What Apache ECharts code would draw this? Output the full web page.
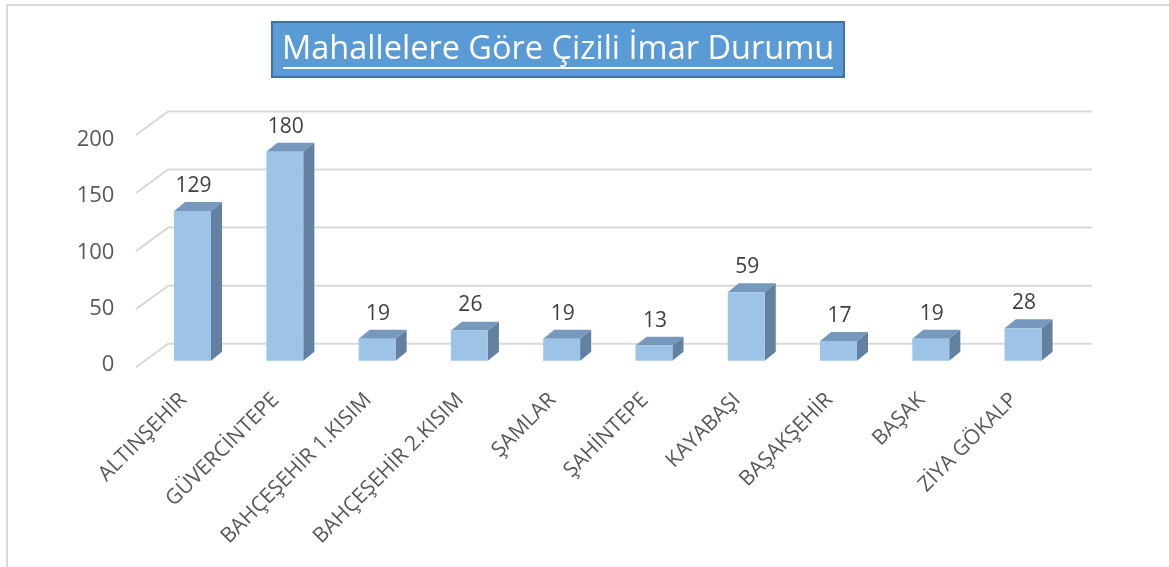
<!DOCTYPE html>
<html>
<head>
<meta charset="utf-8">
<style>
  html, body { margin: 0; padding: 0; background: #ffffff; }
  #chart { width: 1169px; height: 567px; }
</style>
<script src="https://cdn.jsdelivr.net/npm/echarts@6/dist/echarts.min.js"></script>
</head>
<body>
<div id="chart"></div>
<script>
const titleText = 'Mahallelere Göre Çizili İmar Durumu';
const categories = ['ALTINŞEHİR', 'GÜVERCİNTEPE', 'BAHÇEŞEHİR 1.KISIM', 'BAHÇEŞEHİR 2.KISIM', 'ŞAMLAR', 'ŞAHİNTEPE', 'KAYABAŞI', 'BAŞAKŞEHİR', 'BAŞAK', 'ZİYA GÖKALP'];
const values = [129, 180, 19, 26, 19, 13, 59, 17, 19, 28];
const yTicks = [0, 50, 100, 150, 200];

const FONT = "'Open Sans', 'DejaVu Sans', sans-serif";
const chart = echarts.init(document.getElementById('chart'), null, { renderer: 'canvas' });

const option = {
  animation: false,
  backgroundColor: '#ffffff',
  title: {
    text: titleText,
    left: 272,
    top: 22,
    backgroundColor: '#5b9bd5',
    borderColor: '#41719c',
    borderWidth: 2,
    padding: [9, 10, 8, 10],
    textStyle: { color: '#ffffff', fontSize: 32.5, fontWeight: 'normal', fontFamily: FONT, lineHeight: 38 }
  },
  graphic: [
    { type: 'polyline', silent: true, shape: { points: [[7, 567], [7, 5], [1169, 5]] }, style: { stroke: '#d9d9d9', lineWidth: 2, fill: null } },
    { type: 'line', silent: true, z: 100, shape: { x1: 283, y1: 68, x2: 833, y2: 68 }, style: { stroke: '#ffffff', lineWidth: 2 } }
  ],
  grid: [
    { left: 146.4, right: 99.8, top: 128.5, bottom: 206.3 },
    { left: 146.4, right: 99.8, top: 139.5, bottom: 202 },
    { left: 137.4, right: 108.8, top: 128.5, bottom: 206.3 }
  ],
  xAxis: [
    { type: 'category', gridIndex: 0, data: categories, show: false },
    { type: 'category', gridIndex: 1, data: categories, show: false },
    {
      type: 'category', gridIndex: 2, data: categories,
      axisLine: { show: false }, axisTick: { show: false },
      axisLabel: { interval: 0, rotate: 45, margin: 36, color: '#595959', fontSize: 21, fontFamily: FONT }
    }
  ],
  yAxis: [
    { type: 'value', gridIndex: 0, min: 0, max: 200, interval: 50, show: false, splitLine: { show: false } },
    {
      type: 'value', gridIndex: 1, min: 0, max: 200, interval: 50,
      axisLine: { show: false }, axisTick: { show: false }, splitLine: { show: false },
      axisLabel: { margin: 32, color: '#595959', fontSize: 22, fontFamily: FONT }
    },
    { type: 'value', gridIndex: 2, min: 0, max: 200, interval: 50, show: false, splitLine: { show: false } }
  ],
  series: [
    {
      type: 'custom', xAxisIndex: 0, yAxisIndex: 0, z: 1, silent: true,
      data: yTicks.map(v => [0, v]),
      renderItem: function (params, api) {
        const cs = params.coordSys;
        const y = api.coord([0, api.value(1)])[1];
        return {
          type: 'polyline',
          shape: { points: [[cs.x - 10.4, y + 6.5], [cs.x + 21.6, y - 17], [cs.x + cs.width + 22.8, y - 17]] },
          style: { stroke: '#d9d9d9', lineWidth: 2, fill: null }
        };
      }
    },
    {
      type: 'custom', xAxisIndex: 0, yAxisIndex: 0, z: 5, silent: true,
      data: values.map((v, i) => [i, v]),
      renderItem: function (params, api) {
        const i = api.value(0), v = api.value(1);
        const base = api.coord([i, 0]);
        const top = api.coord([i, v]);
        const band = api.size([1, 0])[0];
        const w = band * 0.40;
        const dx = w * 0.30, dy = -w * 0.24;
        const x0 = top[0] - w / 2, x1 = x0 + w;
        const yt = top[1], yb = base[1];
        return {
          type: 'group',
          children: [
            { type: 'polygon', shape: { points: [[x1, yt], [x1 + dx, yt + dy], [x1 + dx, yb + dy], [x1, yb]] }, style: { fill: '#62809f' } },
            { type: 'polygon', shape: { points: [[x0, yt], [x1, yt], [x1 + dx, yt + dy], [x0 + dx, yt + dy]] }, style: { fill: '#7698bc' } },
            { type: 'rect', shape: { x: x0, y: yt, width: w, height: yb - yt }, style: { fill: '#9dc3e6' } },
            { type: 'text', style: { text: String(v), x: top[0] + 1, y: yt - 25, align: 'center', verticalAlign: 'middle', fill: '#404040', font: '21px ' + FONT } }
          ]
        };
      }
    }
  ]
};
chart.setOption(option);
</script>
</body>
</html>
